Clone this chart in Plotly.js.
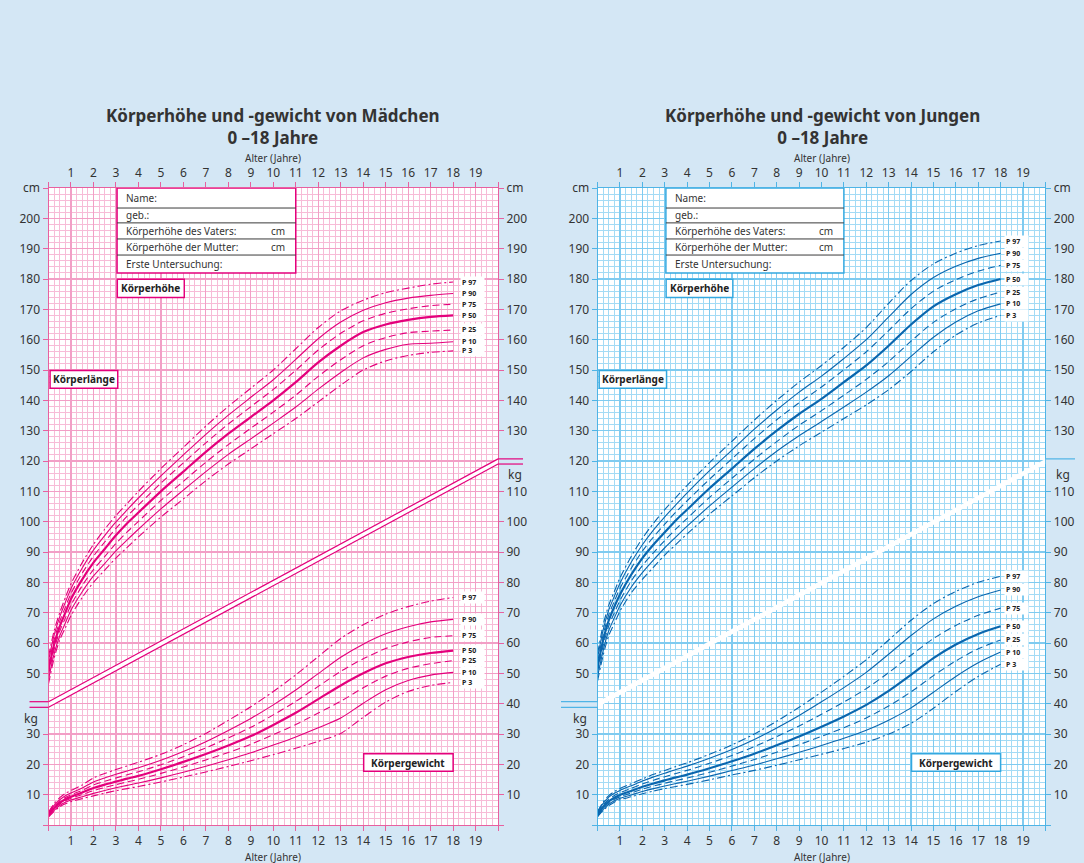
<!DOCTYPE html>
<html><head><meta charset="utf-8">
<script src="https://cdn.plot.ly/plotly-3.0.1.min.js"></script>
<style>html,body{margin:0;padding:0;background:#d4e7f5;} #chart{width:1084px;height:863px;}</style>
</head><body><div id="chart"></div>
<script>
// ---------- data ----------
const ages = [0,0.25,0.5,0.75,1,1.5,2,2.5,3,3.5,4,5,6,7,8,9,10,11,12,13,14,15,16,17,18];
const pctLabels = ['P 97','P 90','P 75','P 50','P 25','P 10','P 3'];
const yearTicks = [0,1,2,3,4,5,6,7,8,9,10,11,12,13,14,15,16,17,18,19,20];
const yearLabels = ['','1','2','3','4','5','6','7','8','9','10','11','12','13','14','15','16','17','18','19',''];
const leftTickVals = [0,10,20,30,50,60,70,80,90,100,110,120,130,140,150,160,170,180,190,200,210];
const leftTickText = ['','10','20','30','50','60','70','80','90','100','110','120','130','140','150','160','170','180','190','200','cm'];
const rightTickVals = [0,10,20,30,40,50,60,70,80,90,100,110,130,140,150,160,170,180,190,200,210];
const rightTickText = ['','10','20','30','40','50','60','70','80','90','100','110','130','140','150','160','170','180','190','200','cm'];

// Girls height (cm)
const gH97 = [55.5,64,70,75,79.5,86.5,92.5,97.5,102,106,110,117.5,124.5,131.5,138,144,150,157,164,169.5,173,175.5,177,178.3,179];
const gH90 = [54.1,62.6,68.6,73.4,77.9,84.7,90.6,95.4,99.9,103.9,107.8,115.1,122.0,128.8,135.1,141.0,146.8,153.5,160.3,165.8,169.7,172.2,173.7,174.6,175.2];
const gH75 = [52.6,61.1,67.1,71.8,76.3,83.0,88.6,93.3,97.8,101.8,105.5,112.7,119.4,126.0,132.2,137.9,143.6,149.9,156.6,162.1,166.2,168.7,170.2,171.2,171.7];
const gH50 = [51.0,59.5,65.5,70.0,74.5,81.0,86.5,91.0,95.5,99.5,103.0,110.0,116.5,123.0,129.0,134.5,140.0,146.0,152.5,158.0,162.5,165.0,166.5,167.5,168.0];
const gH25 = [49.4,57.9,63.9,68.2,72.5,78.9,84.2,88.5,92.8,96.6,100.1,107.0,113.3,119.6,125.4,130.8,136.1,141.7,147.9,153.4,158.0,160.7,162.3,162.8,163.2];
const gH10 = [47.9,56.4,62.4,66.6,70.8,76.9,82.1,86.2,90.4,94.0,97.5,104.2,110.4,116.5,122.2,127.3,132.5,137.8,143.7,149.2,154.0,156.8,158.5,158.8,159.3];
const gH3  = [46.5,55,61,65,69,75,80,84,88,91.5,95,101.5,107.5,113.5,119,124,129,134,139.5,145,150,153,154.8,155.8,156.3];
// Girls weight (kg)
const gW97 = [4.3,7.0,9.0,10.4,11.4,13.2,15.5,17.0,18.3,19.5,20.7,23.3,26.5,30.2,34.5,39.0,44.0,49.5,55.5,61.5,66.0,69.5,72.0,73.8,75.0];
const gW90 = [3.94,6.44,8.32,9.64,10.56,12.2,14.18,15.52,16.7,17.82,18.9,21.34,24.22,27.48,31.18,35.12,39.6,44.5,49.9,55.3,59.6,63.02,65.36,66.96,67.8];
const gW75 = [3.67,6.02,7.81,9.07,9.93,11.45,13.19,14.41,15.5,16.56,17.55,19.87,22.51,25.44,28.69,32.21,36.3,40.75,45.7,50.65,54.8,58.16,60.38,61.83,62.4];
const gW50 = [3.4,5.6,7.3,8.5,9.3,10.7,12.2,13.3,14.3,15.3,16.2,18.4,20.8,23.4,26.2,29.3,33.0,37.0,41.5,46.0,50.0,53.3,55.4,56.7,57.5];
const gW25 = [3.14,5.24,6.87,8.0,8.77,10.04,11.34,12.38,13.31,14.21,15.05,17.01,19.15,21.45,23.92,26.63,29.77,33.14,36.91,40.79,45.22,49.08,51.64,53.17,54.2];
const gW10 = [2.86,4.85,6.42,7.48,8.21,9.34,10.43,11.4,12.26,13.06,13.82,15.54,17.4,19.39,21.51,23.79,26.34,29.04,32.05,35.26,40.14,44.6,47.65,49.42,50.3];
const gW3  = [2.6,4.5,6.0,7.0,7.7,8.7,9.6,10.5,11.3,12.0,12.7,14.2,15.8,17.5,19.3,21.2,23.2,25.3,27.6,30.2,35.5,40.5,44.0,46.0,47.0];
// Boys height (cm)
const bH97 = [56.5,66,72.5,77,81.5,88.5,94.5,99.5,104,108,112,119.5,126.5,133.5,140,146,151.5,157.5,164,172,179.5,185,188.5,191,192.5];
const bH90 = [55.1,64.4,70.9,75.4,79.7,86.6,92.4,97.3,101.6,105.6,109.5,116.8,123.6,130.5,136.8,142.7,148.0,153.8,160.0,167.5,174.9,180.5,184.2,186.8,188.5];
const bH75 = [53.6,62.8,69.3,73.8,78.0,84.6,90.3,95.0,99.2,103.2,106.9,114.0,120.7,127.4,133.6,139.2,144.4,150.1,156.0,163.0,170.2,176.0,179.8,182.6,184.5];
const bH50 = [52,61,67.5,72,76,82.5,88,92.5,96.5,100.5,104,111,117.5,124,130,135.5,140.5,146,151.5,158,165,171,175,178,180];
const bH25 = [50.4,59.2,65.7,70.0,74.0,80.4,85.5,89.8,93.8,97.6,101.1,108.0,114.3,120.6,126.4,131.8,136.6,141.7,146.9,152.8,159.5,165.7,170.2,173.5,175.7];
const bH10 = [48.9,57.6,64.1,68.3,72.3,78.4,83.2,87.4,91.4,95.0,98.5,105.2,111.4,117.5,123.2,128.3,133.0,137.8,142.7,148.1,154.5,160.8,165.8,169.5,171.8];
const bH3  = [47.5,56,62.5,66.5,70.5,76.5,81,85,89,92.5,96,102.5,108.5,114.5,120,125,129.5,134,138.5,143.5,149.5,156,161.5,165.5,168];
// Boys weight (kg)
const bW97 = [4.5,7.6,9.7,11.0,12.0,13.6,15.2,16.7,18.0,19.3,20.5,23.3,26.4,30.0,34.2,38.8,43.8,49.0,54.5,61.0,67.5,73.0,77.0,80.0,82.0];
const bW90 = [4.22,7.15,9.17,10.44,11.41,12.93,14.47,15.86,17.08,18.29,19.41,22.01,24.89,28.18,31.99,36.11,40.61,45.3,50.33,56.3,62.46,67.96,72.1,75.24,77.5];
const bW75 = [3.86,6.58,8.48,9.72,10.66,12.06,13.54,14.78,15.89,17.0,18.0,20.36,22.94,25.84,29.14,32.66,36.5,40.55,44.96,50.25,55.98,61.48,65.8,69.12,71.5];
const bW50 = [3.5,6.0,7.8,9.0,9.9,11.2,12.6,13.7,14.7,15.7,16.6,18.7,21.0,23.5,26.3,29.2,32.4,35.8,39.6,44.2,49.5,55.0,59.5,63.0,65.5];
const bW25 = [3.22,5.58,7.31,8.48,9.34,10.54,11.8,12.83,13.76,14.65,15.48,17.37,19.43,21.58,23.99,26.51,29.22,32.09,35.3,39.23,43.9,49.23,54.08,58.1,61.0];
const bW10 = [2.96,5.18,6.85,7.98,8.81,9.91,11.04,12.0,12.86,13.66,14.42,16.12,17.94,19.76,21.81,23.96,26.21,28.59,31.24,34.54,38.62,43.78,48.96,53.48,57.0];
const bW3  = [2.7,4.8,6.4,7.5,8.3,9.3,10.3,11.2,12.0,12.7,13.4,14.9,16.5,18.0,19.7,21.5,23.3,25.2,27.3,30.0,33.5,38.5,44.0,49.0,53.0];

// ---------- styling ----------
const FONT = '"Noto Sans", "Open Sans", sans-serif';
const TXT = '#333333';
const G = {curve:'#e4007c', axis:'#e8609f', minor:'#f7bcd7', major:'#f29fc6', box:'#e4007c'};
const B = {curve:'#0a66ae', axis:'#4fb4e6', minor:'#a3dbf5', major:'#7fcbf0', box:'#33a8e0'};
const dashes = ['8px,3px,2px,3px','solid','7px,4px','solid','7px,4px','solid','8px,3px,2px,3px'];
const widths = [1.1,1.1,1.1,2.2,1.1,1.1,1.1];

const traces = [];
const annotations = [];
function addSet(sets, xa, ya, col, labelX) {
  sets.forEach((s, i) => {
    traces.push({x: ages, y: s, xaxis: xa, yaxis: ya, type: 'scatter', mode: 'lines',
      line: {color: col, width: widths[i], dash: dashes[i], shape: 'spline', smoothing: 0.8},
      hoverinfo: 'skip', showlegend: false});
    annotations.push({x: labelX, y: s[s.length-1], xref: xa, yref: ya, text: '<b>' + pctLabels[i] + '</b>',
      showarrow: false, xanchor: 'left', yanchor: 'middle', align: 'left', width: 21, height: 9,
      bgcolor: '#ffffff', borderpad: 1, font: {family: FONT, size: 7, color: '#222'}});
  });
}
addSet([gH97,gH90,gH75,gH50,gH25,gH10,gH3], 'x', 'y', G.curve, 18.3);
addSet([gW97,gW90,gW75,gW50,gW25,gW10,gW3], 'x', 'y', G.curve, 18.3);
addSet([bH97,bH90,bH75,bH50,bH25,bH10,bH3], 'x2', 'y4', B.curve, 18.15);
addSet([bW97,bW90,bW75,bW50,bW25,bW10,bW3], 'x2', 'y4', B.curve, 18.15);

// invisible traces so the overlay axes render
[['x','y2'],['x','y3'],['x3','y'],['x2','y5'],['x2','y6'],['x4','y4']].forEach(p => {
  traces.push({x:[10], y:[100], xaxis:p[0], yaxis:p[1], type:'scatter', mode:'markers',
    marker:{opacity:0, size:1}, hoverinfo:'skip', showlegend:false});
});

const YD = [38/863, 675/863];
const GX = [48.5/1084, 498.1/1084];
const BX = [597.6/1084, 1045.4/1084];

function gridX(dom, c) {
  return {domain: dom, range: [0,20], tickmode:'array', tickvals: yearTicks, ticktext: yearLabels,
    ticks:'outside', ticklen:5, tickcolor:c.axis, tickwidth:1, showline:true, linecolor:c.axis, linewidth:1,
    showgrid:true, gridcolor:c.major, gridwidth:1.2, zeroline:false, fixedrange:true,
    minor:{tick0:0, dtick:0.25, showgrid:true, gridcolor:c.minor, gridwidth:1, ticks:''},
    tickfont:{family:FONT, size:12, color:TXT}};
}
function topX(ov, anchor, c) {
  return {overlaying: ov, side:'top', anchor: anchor, range:[0,20], tickmode:'array', tickvals: yearTicks, ticktext: yearLabels,
    ticks:'outside', ticklen:5, tickcolor:c.axis, showline:true, linecolor:c.axis, linewidth:1,
    showgrid:false, zeroline:false, fixedrange:true, tickfont:{family:FONT, size:12, color:TXT}};
}
function gridY(anchor, c) {
  return {domain: YD, anchor: anchor, range:[0,210], tickmode:'linear', tick0:0, dtick:10,
    showticklabels:false, ticks:'', showline:false, showgrid:true, gridcolor:c.major, gridwidth:1.2,
    zeroline:false, fixedrange:true,
    minor:{tick0:0, dtick:2, showgrid:true, gridcolor:c.minor, gridwidth:1, ticks:''}};
}
function labY(ov, anchor, side, vals, txt, c) {
  return {overlaying: ov, anchor: anchor, side: side, range:[0,210], tickmode:'array', tickvals: vals, ticktext: txt,
    ticks:'outside', ticklen:5, tickcolor:c.axis, showline:true, linecolor:c.axis, linewidth:1,
    showgrid:false, zeroline:false, fixedrange:true, tickfont:{family:FONT, size:12, color:TXT}};
}

const shapes = [];
function panelShapes(xa, ya, c, girls, leftExt, rightExt) {
  shapes.push({type:'path', xref:xa, yref:ya, path:'M 0 38.8 L 20 119 L 20 120.7 L 0 40.65 Z',
    fillcolor:'#ffffff', line:{width:0}, layer:'above'});
  if (girls) {
    shapes.push({type:'line', xref:xa, yref:ya, x0:0, y0:40.65, x1:20, y1:120.7, line:{color:c.curve, width:1.2}, layer:'above'});
    shapes.push({type:'line', xref:xa, yref:ya, x0:0, y0:38.8, x1:20, y1:119, line:{color:c.curve, width:1.2}, layer:'above'});
  }
  const extCol = girls ? c.curve : c.axis;
  shapes.push({type:'line', xref:'paper', yref:ya, x0:leftExt[0], x1:leftExt[1], y0:40.65, y1:40.65, line:{color:extCol, width:1.2}});
  shapes.push({type:'line', xref:'paper', yref:ya, x0:leftExt[0], x1:leftExt[1], y0:38.8, y1:38.8, line:{color:extCol, width:1.2}});
  shapes.push({type:'line', xref:'paper', yref:ya, x0:rightExt[0], x1:rightExt[1], y0:120.7, y1:120.7, line:{color:extCol, width:1.2}});
  if (girls) shapes.push({type:'line', xref:'paper', yref:ya, x0:rightExt[0], x1:rightExt[1], y0:119, y1:119, line:{color:extCol, width:1.2}});
  shapes.push({type:'rect', xref:xa, yref:ya, x0:3.05, x1:11.0, y0:182.0, y1:210, fillcolor:'#ffffff', line:{color:c.box, width:1.5}, layer:'above'});
  [203.4,198.5,193.2,187.9].forEach(v => shapes.push({type:'line', xref:xa, yref:ya, x0:3.05, x1:11.0, y0:v, y1:v, line:{color:'#3a3a3a', width:1}, layer:'above'}));
  const boxes = [[3.06,6.04,173.9,179.9],[0.07,3.08,144.0,149.8],[14.02,18.0,17.7,23.5]];
  boxes.forEach(b => shapes.push({type:'rect', xref:xa, yref:ya, x0:b[0], x1:b[1], y0:b[2], y1:b[3], fillcolor:'#ffffff', line:{color:c.box, width:1.5}, layer:'above'}));
}
panelShapes('x','y',G,true,[29.5/1084, 48.5/1084],[498/1084, 523/1084]);
panelShapes('x2','y4',B,false,[561/1084, 597.6/1084],[1045.4/1084, 1075/1084]);

function panelText(xa, ya, cx, title, kgLeftX, kgRightX) {
  const rows = [['Name:',206.7],['geb.:',200.95],['Körperhöhe des Vaters:',195.85],['Körperhöhe der Mutter:',190.55],['Erste Untersuchung:',184.95]];
  rows.forEach(r => annotations.push({x:3.35, y:r[1], xref:xa, yref:ya, text:r[0], showarrow:false, xanchor:'left', yanchor:'middle',
    font:{family:FONT, size:10, color:TXT}}));
  [195.85,190.55].forEach(v => annotations.push({x:10.6, y:v, xref:xa, yref:ya, text:'cm', showarrow:false, xanchor:'right', yanchor:'middle',
    font:{family:FONT, size:10, color:TXT}}));
  [['Körperhöhe',4.55,176.9],['Körperlänge',1.575,146.9],['Körpergewicht',16.01,20.6]].forEach(t =>
    annotations.push({x:t[1], y:t[2], xref:xa, yref:ya, text:'<b>'+t[0]+'</b>', showarrow:false, xanchor:'center', yanchor:'middle',
      font:{family:FONT, size:10, color:'#222'}}));
  annotations.push({x:cx/1084, y:(863-126)/863, xref:'paper', yref:'paper', text:'<b>'+title+'<br>0 –18 Jahre</b>', showarrow:false,
    xanchor:'center', yanchor:'middle', font:{family:FONT, size:17, color:TXT}});
  annotations.push({x:cx/1084, y:(863-158)/863, xref:'paper', yref:'paper', text:'Alter (Jahre)', showarrow:false,
    xanchor:'center', yanchor:'middle', font:{family:FONT, size:10, color:TXT}});
  annotations.push({x:cx/1084, y:(863-857)/863, xref:'paper', yref:'paper', text:'Alter (Jahre)', showarrow:false,
    xanchor:'center', yanchor:'middle', font:{family:FONT, size:10, color:TXT}});
  annotations.push({x:kgLeftX/1084, y:35, xref:'paper', yref:ya, text:'kg', showarrow:false, xanchor:'right', yanchor:'middle',
    font:{family:FONT, size:12, color:TXT}});
  annotations.push({x:kgRightX/1084, y:115.4, xref:'paper', yref:ya, text:'kg', showarrow:false, xanchor:'left', yanchor:'middle',
    font:{family:FONT, size:12, color:TXT}});
}
panelText('x','y',273,'Körperhöhe und -gewicht von Mädchen',40,506);
panelText('x2','y4',822,'Körperhöhe und -gewicht von Jungen',589,1054);

const layout = {
  width:1084, height:863, margin:{l:0,r:0,t:0,b:0},
  paper_bgcolor:'#d4e7f5', plot_bgcolor:'#ffffff', showlegend:false,
  font:{family:FONT, color:TXT},
  xaxis: gridX(GX, G),
  xaxis3: topX('x','y',G),
  yaxis: gridY('x', G),
  yaxis2: labY('y','x','left',leftTickVals,leftTickText,G),
  yaxis3: labY('y','x','right',rightTickVals,rightTickText,G),
  xaxis2: Object.assign(gridX(BX, B), {anchor:'y4'}),
  xaxis4: topX('x2','y4',B),
  yaxis4: gridY('x2', B),
  yaxis5: labY('y4','x2','left',leftTickVals,leftTickText,B),
  yaxis6: labY('y4','x2','right',rightTickVals,rightTickText,B),
  shapes: shapes, annotations: annotations
};
layout.xaxis.anchor = 'y';
Plotly.newPlot('chart', traces, layout, {staticPlot:true, displayModeBar:false});
</script></body></html>
